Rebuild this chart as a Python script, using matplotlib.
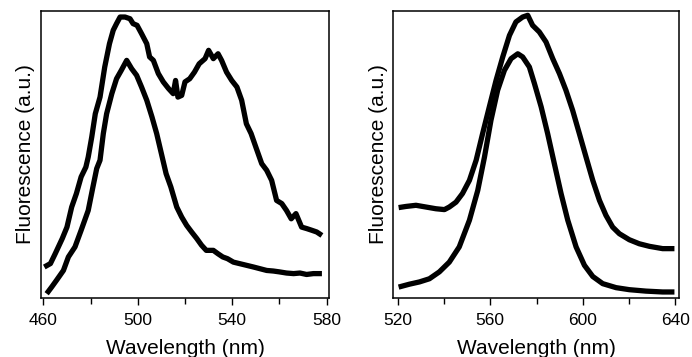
"""Fluorescence spectra, two panels."""
import matplotlib
matplotlib.use("Agg")
import matplotlib.pyplot as plt
from matplotlib.ticker import MultipleLocator

plt.rcParams["font.family"] = ["Liberation Sans", "DejaVu Sans"]

# left panel: two emission spectra (arbitrary units, 0-100 of the box)
left_wl_a = [460.4, 463, 465, 468, 470, 472, 474, 476, 478, 479, 480.5, 482, 484, 486,
             488, 489.6, 491, 492.5, 494.6, 496.7, 498, 499.7, 501.6, 503.8, 505, 506.6,
             508.7, 510.8, 513, 515, 516, 517, 518.6, 520, 522, 524, 526, 528.5, 530, 532,
             534, 535.5, 537.6, 539.8, 542, 544, 546, 548, 550, 552.5, 554.6, 556.7,
             558.8, 561, 563, 565, 567, 569.4, 571.5, 573.7, 575.8, 578]
left_fl_a = [10.8, 12.0, 15.4, 20.7, 24.7, 31.7, 36.4, 42.2, 45.6, 49.1, 56.1, 64.2, 70.0,
             80.5, 88.6, 93.3, 95.6, 97.9, 97.9, 97.3, 95.6, 95.0, 92.1, 88.6, 84.0, 82.8,
             78.2, 75.3, 73.0, 71.2, 75.8, 70.0, 70.6, 75.3, 76.4, 78.7, 81.6, 83.4, 86.3,
             83.4, 85.1, 82.8, 78.7, 75.8, 73.5, 68.9, 60.7, 57.3, 52.6, 46.8, 44.5, 41.0,
             34.0, 32.9, 30.5, 27.6, 29.4, 24.7, 24.2, 23.6, 23.0, 21.8]

left_wl_b = [461.4, 463.5, 465.6, 468.5, 470.6, 473.4, 476, 479, 481, 482.6, 484, 485.4,
             486.8, 489, 491, 493, 495.3, 497.4, 499.5, 501.6, 503.8, 506, 508, 510, 512,
             514, 516.5, 518.6, 520.7, 522.8, 525, 527, 529, 532, 534, 536, 538, 540.5,
             543, 546, 549, 551.8, 554.6, 557.4, 560, 563, 566, 568.7, 571.5, 574.4, 578]
left_fl_b = [1.5, 3.8, 6.2, 9.6, 14.3, 17.8, 23.6, 30.5, 38.7, 45.1, 48.0, 57.3, 64.2,
             71.2, 76.4, 79.3, 82.8, 79.9, 77.6, 73.5, 68.9, 63.1, 57.3, 50.3, 43.3, 38.7,
             31.7, 28.2, 25.3, 23.0, 20.7, 18.4, 16.6, 16.6, 15.4, 14.3, 13.7, 12.5, 12.0,
             11.4, 10.8, 10.2, 9.6, 9.4, 9.1, 8.7, 8.5, 8.7, 8.2, 8.5, 8.5]

# right panel
right_wl_a = [520.4, 523.6, 527.9, 532.2, 536.5, 540.2, 542.3, 545.2, 548, 551, 553.9,
              556.7, 559.6, 562.5, 565.4, 568.3, 571.1, 574, 576.2, 578.3, 581.2, 584.1,
              587, 589.9, 592.7, 595.6, 598.5, 601.4, 604.3, 607.2, 610, 612.9, 615.8,
              620.1, 624.4, 628.8, 634.5, 639.6]
right_fl_a = [31.5, 31.9, 32.3, 31.7, 31.1, 30.8, 31.7, 33.4, 36.4, 41.0, 48.0, 57.3,
              66.6, 75.8, 84.0, 91.5, 96.2, 97.9, 98.5, 95.0, 92.7, 89.2, 83.4, 78.2,
              72.4, 65.4, 57.3, 49.1, 41.0, 34.0, 28.8, 24.7, 22.4, 20.3, 18.9, 18.0,
              17.2, 17.2]

right_wl_b = [520.4, 525, 529.4, 533.7, 538, 542.3, 546.6, 551, 554.6, 557.5, 560.3,
              563.2, 566.1, 569, 571.9, 574, 576.9, 579.1, 582, 584.8, 587.7, 590.6,
              593.5, 597.1, 600.7, 604.3, 608.6, 614.4, 620.1, 627.3, 634.5, 639.6]
right_fl_b = [3.8, 4.8, 5.6, 6.7, 9.1, 12.5, 17.8, 27.1, 37.5, 49.1, 61.9, 72.4, 79.3,
              83.4, 85.1, 84.0, 80.5, 74.7, 66.6, 57.3, 46.8, 36.4, 27.1, 17.8, 11.4, 7.5,
              5.0, 3.6, 2.9, 2.4, 2.1, 2.1]

left_xlim = (459.0, 581.0)
right_xlim = (518.1, 641.7)
left_ticks = [460, 500, 540, 580]
right_ticks = [520, 560, 600, 640]


def style_axis(ax, xlim, ticks):
    ax.set_xlim(*xlim)
    ax.set_ylim(0, 100)
    ax.set_xticks(ticks)
    ax.xaxis.set_minor_locator(MultipleLocator(20))
    ax.set_yticks([])
    ax.tick_params(axis="x", which="both", direction="out", width=1.0,
                   labelsize=12.5, pad=6)
    ax.tick_params(axis="x", which="major", length=5)
    ax.tick_params(axis="x", which="minor", length=4)
    for sp in ax.spines.values():
        sp.set_linewidth(1.1)
    ax.set_xlabel("Wavelength (nm)", fontsize=15, labelpad=8)
    ax.set_ylabel("Fluorescence (a.u.)", fontsize=15, labelpad=4)


fig = plt.figure(figsize=(6.92, 3.57), dpi=100)
ax1 = fig.add_axes([41 / 692, 59 / 357, 288 / 692, 287 / 357])
ax2 = fig.add_axes([393.3 / 692, 59 / 357, 286 / 692, 287 / 357])

for wl, fl in [(left_wl_a, left_fl_a), (left_wl_b, left_fl_b)]:
    ax1.plot(wl, fl, color="black", lw=3.8, solid_joinstyle="round",
             solid_capstyle="butt")
for wl, fl in [(right_wl_a, right_fl_a), (right_wl_b, right_fl_b)]:
    ax2.plot(wl, fl, color="black", lw=3.8, solid_joinstyle="round",
             solid_capstyle="butt")

style_axis(ax1, left_xlim, left_ticks)
style_axis(ax2, right_xlim, right_ticks)

fig.savefig("out.png", dpi=100)
